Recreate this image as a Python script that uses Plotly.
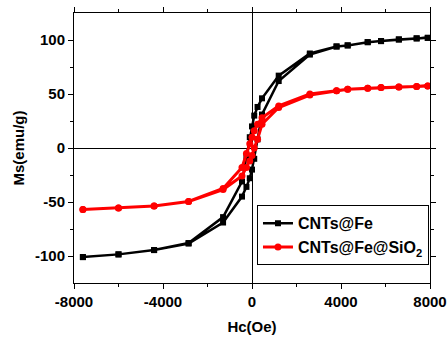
import plotly.graph_objects as go

# Hysteresis loop: descending branch then ascending branch
H_desc = [7900, 7400, 6600, 5800, 5200, 4300, 3800, 2600, 1200, 450, 250, 100, 0,
          -100, -250, -450, -1300, -2850, -4400, -6000, -7600]
H_asc = [-7600, -6000, -4400, -2850, -1300, -450, -250, -100, 0, 100, 250, 450,
         1200, 2600, 3800, 4300, 5200, 5800, 6600, 7400, 7900]

fe_desc = [102, 101.5, 100.5, 99, 98, 95, 94, 87.5, 67, 46, 38, 30, 20,
           10, -8, -31, -64, -88, -94.5, -98.5, -101]
fe_asc = [-101, -98.5, -94.5, -88.5, -69, -45, -36, -28, -20,
          -10, 8, 31, 62, 86.5, 94, 95, 98, 99, 100.5, 101.5, 102]

si_desc = [57.5, 57, 56.5, 56, 55.3, 54.4, 53, 50, 39, 28, 22, 16, 10,
           4, -5, -18, -37.5, -49.5, -53.7, -55.6, -57]
si_asc = [-57, -55.6, -53.7, -49.5, -38.5, -26, -18, -12, -7,
          0, 8, 22, 37.5, 49, 53, 54.4, 55.3, 56, 56.5, 57, 57.5]

names = ["CNTs@Fe", "CNTs@Fe@SiO<sub>2</sub>"]
x_ticks = [-8000, -4000, 0, 4000, 8000]
y_ticks = [-100, -50, 0, 50, 100]

FONT = "Liberation Sans, Arial"

fig = go.Figure()
fig.add_trace(go.Scatter(
    x=H_desc + H_asc, y=fe_desc + fe_asc, mode="lines+markers", name=names[0],
    line=dict(color="black", width=2.5),
    marker=dict(symbol="square", size=6, color="black")))
fig.add_trace(go.Scatter(
    x=H_desc + H_asc, y=si_desc + si_asc, mode="lines+markers", name=names[1],
    line=dict(color="#ff0000", width=3),
    marker=dict(symbol="circle", size=7, color="#ff0000")))

axis_common = dict(
    showline=True, linecolor="black", linewidth=1, mirror="ticks",
    ticks="outside", ticklen=5, tickcolor="black", showgrid=False,
    zeroline=True, zerolinecolor="black", zerolinewidth=1,
    automargin=False,
    tickfont=dict(family=FONT, size=15, color="black", weight="bold"),
)

fig.update_xaxes(
    range=[-8000, 8000], tickvals=x_ticks, ticktext=[str(v) for v in x_ticks],
    minor=dict(tickvals=[-6000, -2000, 2000, 6000], ticks="outside", ticklen=3, tickcolor="black"),
    title=dict(text="<b>Hc(Oe)</b>", font=dict(family=FONT, size=15, color="black"), standoff=12),
    **axis_common)
fig.update_yaxes(
    range=[-125, 125], tickvals=y_ticks, ticktext=[str(v) for v in y_ticks],
    minor=dict(tickvals=[-75, -25, 25, 75], ticks="outside", ticklen=3, tickcolor="black"),
    title=dict(text="<b>Ms(emu/g)</b>", font=dict(family=FONT, size=15, color="black"), standoff=6),
    **axis_common)

fig.update_layout(
    width=448, height=337,
    margin=dict(l=74, r=18, t=13, b=54),
    paper_bgcolor="white", plot_bgcolor="white",
    showlegend=True,
    legend=dict(x=0.514, y=0.288, xanchor="left", yanchor="top",
                bordercolor="black", borderwidth=1, bgcolor="white",
                font=dict(family=FONT, size=16, color="black", weight="bold"),
                tracegroupgap=0, itemwidth=30),
)

fig.write_html("out.html")
